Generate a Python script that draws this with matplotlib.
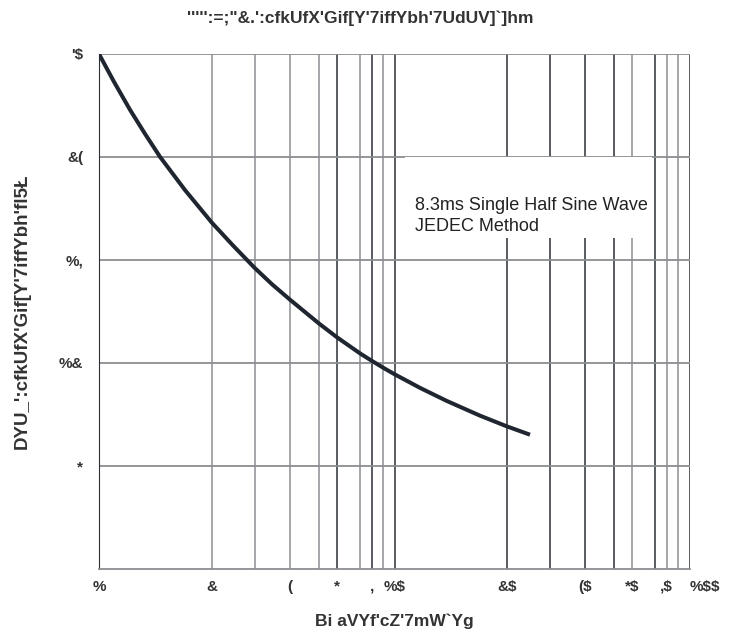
import numpy as np
import matplotlib
matplotlib.use("Agg")
import matplotlib.pyplot as plt
from matplotlib.patches import Rectangle

# curve (cycles, peak surge current)
cycles = [1, 1.133, 1.275, 1.408, 1.541, 1.763, 2, 2.495, 3, 3.49, 4, 5, 6, 7, 8, 9, 10,
          12.24, 14.63, 17.61, 20, 25.34]
surge = [30, 28.38, 26.75, 25.35, 24.01, 22.07, 20.18, 18.84, 17.53, 16.58, 15.68, 14.29,
         13.5, 12.55, 12.12, 11.71, 11.32, 10.54, 9.78, 8.92, 8.30, 7.81]

# garbled labels exactly as they show in the reference
title_txt = "'''''" + ':=;"&.\':cfkUfX\'Gif[Y\'7iffYbh\'7UdUV]`]hm'
xlabel_txt = "Bi aVYf'cZ'7mW`Yg"
ylabel_txt = "DYU_':cfkUfX'Gif[Y'7iffYbh'fl5Ł"
xtick_vals = [1, 2, 4, 6, 8, 10, 20, 40, 60, 80, 100]
xtick_lbls = ["%", "&", "(", "*", ",", "%$", "&$", "($", "*$", ",$", "%$$"]
ytick_vals = [6, 12, 18, 24, 30]
ytick_lbls = ["*", "%&", "%,", "&(", "'$"]
note_txt = "8.3ms Single Half Sine Wave\nJEDEC Method"

# grid of the (hand drawn, not quite log) x axis
grid_vals = [1, 2, 3, 4, 5, 6, 7, 8, 9, 10, 20, 30, 40, 50, 60, 70, 80, 90, 100]
grid_pos = [99, 211.7, 254.7, 290, 319, 336.7, 360, 371.7, 383.3, 395,
            506.7, 550.3, 585.3, 614.3, 632.3, 655.3, 666.7, 678.3, 690]
dark_lines = [6, 8, 10, 20, 30, 40, 50, 70, 100]

def fwd(x):
    return np.interp(x, grid_vals, grid_pos)

def inv(p):
    return np.interp(p, grid_pos, grid_vals)

bold = ["Liberation Sans Narrow", "Liberation Sans", "DejaVu Sans"]
plt.rcParams["font.family"] = ["Liberation Sans", "DejaVu Sans"]
plt.rcParams["text.parse_math"] = False

fig = plt.figure(figsize=(7.33, 6.35), dpi=100)
ax = fig.add_axes([99 / 733, 1 - 568.7 / 635, 591 / 733, 514.7 / 635])
ax.set_xscale("function", functions=(fwd, inv))
ax.set_xlim(1, 100)
ax.set_ylim(0, 30)

for v in grid_vals[1:]:
    c = "#2b2f36" if v in dark_lines else "#8b8e92"
    ax.axvline(v, color=c, lw=1.1, zorder=1)
for v in ytick_vals:
    ax.axhline(v, color="#8b8e92", lw=1.3, zorder=1)

ax.add_patch(Rectangle((0.518, 0.6425), 0.418, 0.157, transform=ax.transAxes,
                       facecolor="white", edgecolor="none", zorder=2))
ax.text(0.535, 0.685, note_txt, transform=ax.transAxes, fontsize=13,
        va="center", ha="left", color="#222222", linespacing=1.35, zorder=3)

ax.plot(cycles, surge, color="#1f2630", lw=2.9, solid_capstyle="butt",
        solid_joinstyle="round", zorder=4)

for s in ["top", "right"]:
    ax.spines[s].set_visible(False)
ax.spines["left"].set_color("#2b2f36")
ax.spines["bottom"].set_color("#8b8e92")
ax.spines["bottom"].set_linewidth(1.3)

ax.set_xticks(xtick_vals)
ax.set_xticklabels(xtick_lbls, fontweight="bold", fontsize=11, family=bold, color="#333333")
ax.xaxis.set_minor_locator(plt.NullLocator())
lbls = ax.get_xticklabels()
lbls[-1].set_horizontalalignment("left")
ax.set_yticks(ytick_vals)
ax.set_yticklabels(ytick_lbls, fontweight="bold", fontsize=11, family=bold, color="#333333")
ax.tick_params(axis="x", length=0, pad=8)
ax.tick_params(axis="y", length=0, pad=11.5)

ax.set_xlabel(xlabel_txt, fontweight="bold", fontsize=12.5, family=bold, color="#333333", labelpad=14)
ax.set_ylabel(ylabel_txt, fontweight="bold", fontsize=13.5, family=bold, color="#333333", labelpad=20)
fig.text(360 / 733, 1 - 18 / 635, title_txt, fontweight="bold", fontsize=12.5, family=bold,
         color="#333333", ha="center", va="center")

fig.savefig("out.png", dpi=100, facecolor="white")
